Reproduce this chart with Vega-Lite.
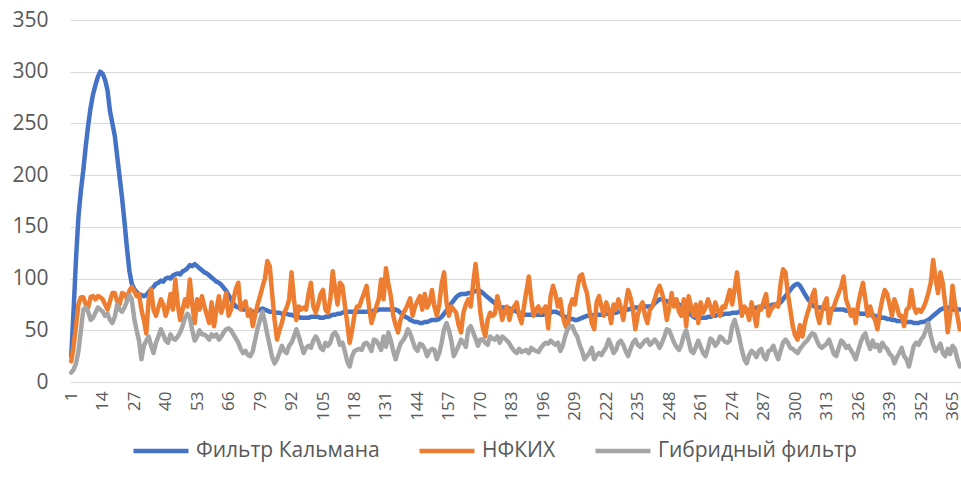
{
"$schema": "https://vega.github.io/schema/vega-lite/v6.json",
"width": 891, "height": 362,
"autosize": {"type": "none"},
"padding": {"left": 70, "top": 20, "right": 0, "bottom": 109},
"datasets": {"d": [
{"i":1,"a":25,"b":20,"c":9},{"i":2,"a":70,"b":35,"c":12},{"i":3,"a":120,"b":55,"c":18},{"i":4,"a":160,"b":75,"c":30},{"i":5,"a":185,"b":82,"c":50},{"i":6,"a":205,"b":82,"c":70},{"i":7,"a":228,"b":75,"c":72},{"i":8,"a":248,"b":72,"c":68},{"i":9,"a":265,"b":82,"c":60},{"i":10,"a":278,"b":83,"c":62},
{"i":11,"a":287,"b":80,"c":67},{"i":12,"a":295,"b":83,"c":72},{"i":13,"a":300,"b":82,"c":70},{"i":14,"a":298,"b":80,"c":68},{"i":15,"a":292,"b":75,"c":64},{"i":16,"a":282,"b":70,"c":66},{"i":17,"a":262,"b":78,"c":60},{"i":18,"a":250,"b":86,"c":57},{"i":19,"a":238,"b":86,"c":63},{"i":20,"a":218,"b":78,"c":75},
{"i":21,"a":198,"b":75,"c":70},{"i":22,"a":178,"b":86,"c":68},{"i":23,"a":155,"b":85,"c":72},{"i":24,"a":130,"b":80,"c":78},{"i":25,"a":108,"b":88,"c":84},{"i":26,"a":95,"b":92,"c":80},{"i":27,"a":90,"b":88,"c":62},{"i":28,"a":87,"b":83,"c":50},{"i":29,"a":85,"b":85,"c":40},{"i":30,"a":84,"b":70,"c":22},
{"i":31,"a":83,"b":60,"c":35},{"i":32,"a":84,"b":47,"c":40},{"i":33,"a":87,"b":80,"c":44},{"i":34,"a":90,"b":90,"c":35},{"i":35,"a":92,"b":70,"c":28},{"i":36,"a":95,"b":64,"c":38},{"i":37,"a":96,"b":72,"c":44},{"i":38,"a":98,"b":80,"c":51},{"i":39,"a":97,"b":75,"c":46},{"i":40,"a":100,"b":64,"c":40},
{"i":41,"a":101,"b":72,"c":38},{"i":42,"a":100,"b":85,"c":46},{"i":43,"a":103,"b":70,"c":42},{"i":44,"a":104,"b":99,"c":41},{"i":45,"a":105,"b":75,"c":44},{"i":46,"a":104,"b":60,"c":48},{"i":47,"a":107,"b":70,"c":54},{"i":48,"a":108,"b":80,"c":62},{"i":49,"a":110,"b":73,"c":66},{"i":50,"a":113,"b":99,"c":62},
{"i":51,"a":112,"b":75,"c":50},{"i":52,"a":114,"b":57,"c":40},{"i":53,"a":112,"b":80,"c":44},{"i":54,"a":110,"b":70,"c":50},{"i":55,"a":108,"b":83,"c":46},{"i":56,"a":106,"b":73,"c":46},{"i":57,"a":105,"b":65,"c":44},{"i":58,"a":103,"b":57,"c":41},{"i":59,"a":101,"b":77,"c":46},{"i":60,"a":99,"b":54,"c":44},
{"i":61,"a":97,"b":70,"c":46},{"i":62,"a":96,"b":83,"c":41},{"i":63,"a":94,"b":67,"c":44},{"i":64,"a":91,"b":75,"c":48},{"i":65,"a":88,"b":86,"c":51},{"i":66,"a":84,"b":64,"c":52},{"i":67,"a":80,"b":70,"c":50},{"i":68,"a":76,"b":80,"c":46},{"i":69,"a":73,"b":90,"c":42},{"i":70,"a":72,"b":96,"c":38},
{"i":71,"a":71,"b":70,"c":32},{"i":72,"a":70,"b":75,"c":28},{"i":73,"a":70,"b":78,"c":30},{"i":74,"a":69,"b":64,"c":26},{"i":75,"a":68,"b":70,"c":25},{"i":76,"a":68,"b":54,"c":30},{"i":77,"a":68,"b":65,"c":41},{"i":78,"a":69,"b":75,"c":52},{"i":79,"a":70,"b":83,"c":60},{"i":80,"a":71,"b":92,"c":68},
{"i":81,"a":70,"b":100,"c":58},{"i":82,"a":69,"b":117,"c":46},{"i":83,"a":68,"b":112,"c":35},{"i":84,"a":68,"b":85,"c":24},{"i":85,"a":67,"b":60,"c":18},{"i":86,"a":67,"b":41,"c":22},{"i":87,"a":67,"b":50,"c":28},{"i":88,"a":66,"b":57,"c":35},{"i":89,"a":66,"b":67,"c":30},{"i":90,"a":66,"b":72,"c":28},
{"i":91,"a":65,"b":80,"c":35},{"i":92,"a":65,"b":106,"c":38},{"i":93,"a":64,"b":80,"c":44},{"i":94,"a":63,"b":60,"c":51},{"i":95,"a":63,"b":73,"c":44},{"i":96,"a":62,"b":70,"c":36},{"i":97,"a":62,"b":72,"c":28},{"i":98,"a":62,"b":70,"c":33},{"i":99,"a":62,"b":85,"c":35},{"i":100,"a":63,"b":96,"c":33},
{"i":101,"a":63,"b":73,"c":40},{"i":102,"a":63,"b":67,"c":44},{"i":103,"a":63,"b":75,"c":40},{"i":104,"a":62,"b":85,"c":33},{"i":105,"a":62,"b":89,"c":31},{"i":106,"a":63,"b":70,"c":38},{"i":107,"a":63,"b":67,"c":35},{"i":108,"a":64,"b":80,"c":38},{"i":109,"a":65,"b":107,"c":46},{"i":110,"a":65,"b":90,"c":48},
{"i":111,"a":66,"b":75,"c":44},{"i":112,"a":66,"b":96,"c":36},{"i":113,"a":67,"b":93,"c":38},{"i":114,"a":68,"b":75,"c":30},{"i":115,"a":68,"b":57,"c":20},{"i":116,"a":68,"b":38,"c":15},{"i":117,"a":68,"b":50,"c":25},{"i":118,"a":68,"b":65,"c":30},{"i":119,"a":68,"b":73,"c":31},{"i":120,"a":68,"b":73,"c":32},
{"i":121,"a":68,"b":80,"c":31},{"i":122,"a":68,"b":86,"c":37},{"i":123,"a":68,"b":93,"c":38},{"i":124,"a":68,"b":73,"c":35},{"i":125,"a":68,"b":57,"c":30},{"i":126,"a":69,"b":65,"c":41},{"i":127,"a":69,"b":73,"c":40},{"i":128,"a":70,"b":80,"c":36},{"i":129,"a":70,"b":99,"c":31},{"i":130,"a":70,"b":80,"c":44},
{"i":131,"a":70,"b":110,"c":34},{"i":132,"a":70,"b":95,"c":48},{"i":133,"a":70,"b":83,"c":40},{"i":134,"a":70,"b":64,"c":30},{"i":135,"a":70,"b":55,"c":22},{"i":136,"a":69,"b":48,"c":30},{"i":137,"a":67,"b":60,"c":37},{"i":138,"a":65,"b":66,"c":40},{"i":139,"a":63,"b":70,"c":44},{"i":140,"a":62,"b":75,"c":51},
{"i":141,"a":60,"b":81,"c":47},{"i":142,"a":59,"b":64,"c":40},{"i":143,"a":58,"b":73,"c":33},{"i":144,"a":58,"b":78,"c":30},{"i":145,"a":57,"b":83,"c":37},{"i":146,"a":57,"b":70,"c":36},{"i":147,"a":58,"b":85,"c":32},{"i":148,"a":58,"b":72,"c":25},{"i":149,"a":59,"b":77,"c":30},{"i":150,"a":60,"b":89,"c":32},
{"i":151,"a":60,"b":73,"c":31},{"i":152,"a":60,"b":64,"c":22},{"i":153,"a":61,"b":75,"c":28},{"i":154,"a":63,"b":95,"c":38},{"i":155,"a":66,"b":106,"c":51},{"i":156,"a":69,"b":77,"c":57},{"i":157,"a":72,"b":64,"c":50},{"i":158,"a":76,"b":73,"c":40},{"i":159,"a":79,"b":70,"c":25},{"i":160,"a":82,"b":67,"c":30},
{"i":161,"a":84,"b":55,"c":35},{"i":162,"a":85,"b":48,"c":41},{"i":163,"a":85,"b":67,"c":38},{"i":164,"a":85,"b":75,"c":34},{"i":165,"a":86,"b":80,"c":51},{"i":166,"a":86,"b":73,"c":54},{"i":167,"a":87,"b":95,"c":48},{"i":168,"a":88,"b":114,"c":42},{"i":169,"a":89,"b":93,"c":35},{"i":170,"a":88,"b":67,"c":41},
{"i":171,"a":86,"b":52,"c":41},{"i":172,"a":84,"b":44,"c":38},{"i":173,"a":82,"b":60,"c":36},{"i":174,"a":80,"b":67,"c":44},{"i":175,"a":78,"b":64,"c":42},{"i":176,"a":76,"b":66,"c":41},{"i":177,"a":74,"b":83,"c":44},{"i":178,"a":72,"b":73,"c":38},{"i":179,"a":72,"b":60,"c":44},{"i":180,"a":72,"b":68,"c":42},
{"i":181,"a":72,"b":73,"c":40},{"i":182,"a":71,"b":60,"c":37},{"i":183,"a":70,"b":70,"c":33},{"i":184,"a":69,"b":73,"c":30},{"i":185,"a":68,"b":77,"c":28},{"i":186,"a":67,"b":64,"c":32},{"i":187,"a":66,"b":57,"c":29},{"i":188,"a":65,"b":73,"c":30},{"i":189,"a":65,"b":88,"c":31},{"i":190,"a":65,"b":102,"c":28},
{"i":191,"a":65,"b":80,"c":33},{"i":192,"a":65,"b":64,"c":31},{"i":193,"a":65,"b":70,"c":30},{"i":194,"a":65,"b":73,"c":29},{"i":195,"a":65,"b":67,"c":33},{"i":196,"a":65,"b":70,"c":36},{"i":197,"a":66,"b":73,"c":38},{"i":198,"a":66,"b":52,"c":37},{"i":199,"a":67,"b":83,"c":40},{"i":200,"a":68,"b":93,"c":38},
{"i":201,"a":68,"b":85,"c":36},{"i":202,"a":67,"b":73,"c":38},{"i":203,"a":66,"b":80,"c":30},{"i":204,"a":64,"b":64,"c":35},{"i":205,"a":63,"b":55,"c":44},{"i":206,"a":62,"b":51,"c":51},{"i":207,"a":61,"b":73,"c":54},{"i":208,"a":61,"b":80,"c":54},{"i":209,"a":60,"b":75,"c":48},{"i":210,"a":60,"b":90,"c":44},
{"i":211,"a":61,"b":102,"c":36},{"i":212,"a":62,"b":104,"c":30},{"i":213,"a":63,"b":93,"c":22},{"i":214,"a":64,"b":86,"c":25},{"i":215,"a":64,"b":70,"c":28},{"i":216,"a":64,"b":57,"c":33},{"i":217,"a":65,"b":51,"c":22},{"i":218,"a":65,"b":77,"c":26},{"i":219,"a":65,"b":83,"c":28},{"i":220,"a":65,"b":73,"c":26},
{"i":221,"a":66,"b":64,"c":30},{"i":222,"a":66,"b":77,"c":34},{"i":223,"a":66,"b":70,"c":41},{"i":224,"a":67,"b":57,"c":35},{"i":225,"a":67,"b":75,"c":28},{"i":226,"a":67,"b":70,"c":31},{"i":227,"a":68,"b":80,"c":38},{"i":228,"a":68,"b":72,"c":40},{"i":229,"a":69,"b":60,"c":36},{"i":230,"a":70,"b":75,"c":30},
{"i":231,"a":70,"b":89,"c":25},{"i":232,"a":71,"b":82,"c":32},{"i":233,"a":71,"b":70,"c":38},{"i":234,"a":72,"b":51,"c":41},{"i":235,"a":72,"b":65,"c":36},{"i":236,"a":72,"b":73,"c":34},{"i":237,"a":72,"b":77,"c":37},{"i":238,"a":73,"b":64,"c":40},{"i":239,"a":73,"b":57,"c":41},{"i":240,"a":73,"b":70,"c":36},
{"i":241,"a":74,"b":73,"c":38},{"i":242,"a":76,"b":80,"c":41},{"i":243,"a":78,"b":88,"c":38},{"i":244,"a":80,"b":93,"c":33},{"i":245,"a":80,"b":86,"c":38},{"i":246,"a":79,"b":76,"c":44},{"i":247,"a":78,"b":60,"c":51},{"i":248,"a":77,"b":72,"c":50},{"i":249,"a":77,"b":86,"c":44},{"i":250,"a":76,"b":73,"c":38},
{"i":251,"a":76,"b":80,"c":34},{"i":252,"a":75,"b":68,"c":31},{"i":253,"a":73,"b":64,"c":36},{"i":254,"a":71,"b":80,"c":45},{"i":255,"a":69,"b":54,"c":50},{"i":256,"a":67,"b":83,"c":40},{"i":257,"a":65,"b":73,"c":30},{"i":258,"a":63,"b":64,"c":28},{"i":259,"a":62,"b":75,"c":34},{"i":260,"a":62,"b":57,"c":40},
{"i":261,"a":62,"b":77,"c":34},{"i":262,"a":62,"b":67,"c":28},{"i":263,"a":62,"b":72,"c":25},{"i":264,"a":63,"b":80,"c":33},{"i":265,"a":63,"b":73,"c":42},{"i":266,"a":64,"b":64,"c":40},{"i":267,"a":64,"b":77,"c":35},{"i":268,"a":65,"b":70,"c":38},{"i":269,"a":65,"b":64,"c":44},{"i":270,"a":65,"b":73,"c":42},
{"i":271,"a":66,"b":72,"c":39},{"i":272,"a":66,"b":80,"c":38},{"i":273,"a":66,"b":89,"c":40},{"i":274,"a":67,"b":75,"c":54},{"i":275,"a":67,"b":90,"c":60},{"i":276,"a":67,"b":106,"c":52},{"i":277,"a":68,"b":83,"c":42},{"i":278,"a":68,"b":64,"c":31},{"i":279,"a":68,"b":73,"c":22},{"i":280,"a":68,"b":70,"c":18},
{"i":281,"a":69,"b":60,"c":26},{"i":282,"a":70,"b":77,"c":30},{"i":283,"a":71,"b":66,"c":28},{"i":284,"a":72,"b":54,"c":24},{"i":285,"a":72,"b":73,"c":30},{"i":286,"a":73,"b":70,"c":32},{"i":287,"a":73,"b":78,"c":25},{"i":288,"a":73,"b":85,"c":22},{"i":289,"a":74,"b":64,"c":30},{"i":290,"a":74,"b":70,"c":31},
{"i":291,"a":75,"b":73,"c":35},{"i":292,"a":75,"b":75,"c":28},{"i":293,"a":76,"b":73,"c":22},{"i":294,"a":77,"b":95,"c":30},{"i":295,"a":80,"b":109,"c":38},{"i":296,"a":83,"b":106,"c":41},{"i":297,"a":86,"b":85,"c":38},{"i":298,"a":89,"b":70,"c":33},{"i":299,"a":92,"b":54,"c":32},{"i":300,"a":94,"b":45,"c":30},
{"i":301,"a":95,"b":41,"c":28},{"i":302,"a":93,"b":55,"c":32},{"i":303,"a":89,"b":44,"c":35},{"i":304,"a":85,"b":57,"c":38},{"i":305,"a":81,"b":66,"c":40},{"i":306,"a":78,"b":73,"c":44},{"i":307,"a":75,"b":83,"c":47},{"i":308,"a":73,"b":89,"c":46},{"i":309,"a":72,"b":67,"c":40},{"i":310,"a":72,"b":57,"c":35},
{"i":311,"a":72,"b":68,"c":33},{"i":312,"a":71,"b":75,"c":35},{"i":313,"a":71,"b":81,"c":37},{"i":314,"a":70,"b":57,"c":41},{"i":315,"a":70,"b":70,"c":34},{"i":316,"a":70,"b":73,"c":27},{"i":317,"a":70,"b":80,"c":25},{"i":318,"a":70,"b":86,"c":33},{"i":319,"a":70,"b":92,"c":40},{"i":320,"a":70,"b":102,"c":38},
{"i":321,"a":69,"b":80,"c":33},{"i":322,"a":69,"b":73,"c":35},{"i":323,"a":68,"b":64,"c":31},{"i":324,"a":68,"b":70,"c":27},{"i":325,"a":67,"b":57,"c":22},{"i":326,"a":67,"b":75,"c":30},{"i":327,"a":66,"b":86,"c":38},{"i":328,"a":66,"b":96,"c":44},{"i":329,"a":66,"b":80,"c":47},{"i":330,"a":65,"b":64,"c":38},
{"i":331,"a":65,"b":73,"c":32},{"i":332,"a":64,"b":64,"c":40},{"i":333,"a":64,"b":60,"c":34},{"i":334,"a":63,"b":51,"c":36},{"i":335,"a":63,"b":68,"c":30},{"i":336,"a":62,"b":80,"c":38},{"i":337,"a":62,"b":89,"c":34},{"i":338,"a":61,"b":85,"c":32},{"i":339,"a":61,"b":75,"c":27},{"i":340,"a":60,"b":64,"c":25},
{"i":341,"a":60,"b":80,"c":18},{"i":342,"a":59,"b":73,"c":24},{"i":343,"a":59,"b":64,"c":28},{"i":344,"a":59,"b":64,"c":33},{"i":345,"a":59,"b":54,"c":25},{"i":346,"a":58,"b":70,"c":22},{"i":347,"a":58,"b":72,"c":15},{"i":348,"a":58,"b":89,"c":25},{"i":349,"a":57,"b":73,"c":35},{"i":350,"a":57,"b":67,"c":38},
{"i":351,"a":57,"b":70,"c":36},{"i":352,"a":58,"b":68,"c":41},{"i":353,"a":58,"b":72,"c":44},{"i":354,"a":59,"b":78,"c":50},{"i":355,"a":60,"b":86,"c":57},{"i":356,"a":62,"b":96,"c":45},{"i":357,"a":64,"b":118,"c":36},{"i":358,"a":66,"b":100,"c":30},{"i":359,"a":68,"b":86,"c":33},{"i":360,"a":70,"b":106,"c":37},
{"i":361,"a":71,"b":95,"c":28},{"i":362,"a":72,"b":75,"c":25},{"i":363,"a":72,"b":48,"c":32},{"i":364,"a":71,"b":64,"c":27},{"i":365,"a":70,"b":93,"c":35},{"i":366,"a":70,"b":75,"c":32},{"i":367,"a":70,"b":64,"c":22},{"i":368,"a":70,"b":51,"c":15}
]},
"data": {"name": "d"},
"transform": [{"fold": ["a", "b", "c"], "as": ["s", "v"]}],
"mark": {"type": "line", "strokeWidth": 4.5, "strokeJoin": "round", "strokeCap": "round", "clip": false},
"encoding": {
  "x": {"field": "i", "type": "quantitative",
        "scale": {"domain": [0.5, 368.5], "nice": false, "zero": false},
        "axis": {"values": [1,14,27,40,53,66,79,92,105,118,131,144,157,170,183,196,209,222,235,248,261,274,287,300,313,326,339,352,365],
                 "labelAngle": -90, "grid": false, "ticks": false, "domain": false, "title": null,
                 "labelPadding": 9, "labelOverlap": false, "labelFlush": false, "labelFontSize": 17}},
  "y": {"field": "v", "type": "quantitative",
        "scale": {"domain": [0, 350], "nice": false},
        "axis": {"values": [0,50,100,150,200,250,300,350], "title": null, "ticks": false, "domain": false,
                 "grid": true, "gridColor": "#D9D9D9", "gridWidth": 1, "labelPadding": 22, "labelFontSize": 21}},
  "color": {"field": "s", "type": "nominal",
            "scale": {"domain": ["a", "b", "c"], "range": ["#4472C4", "#ED7D31", "#A5A5A5"]},
            "legend": {"orient": "none", "legendX": 61, "legendY": 401, "direction": "horizontal", "title": null,
                       "symbolType": "stroke", "symbolSize": 3025, "symbolStrokeWidth": 4.5,
                       "labelExpr": "datum.label == 'a' ? 'Фильтр Кальмана' : datum.label == 'b' ? 'НФКИХ' : 'Гибридный фильтр'",
                       "labelFont": "Open Sans", "labelFontSize": 21, "labelColor": "#595959", "labelLimit": 400,
                       "labelOffset": 5, "columnPadding": 30}}
},
"config": {
  "view": {"stroke": null},
  "axis": {"labelFont": "Open Sans", "labelColor": "#595959"}
}
}
